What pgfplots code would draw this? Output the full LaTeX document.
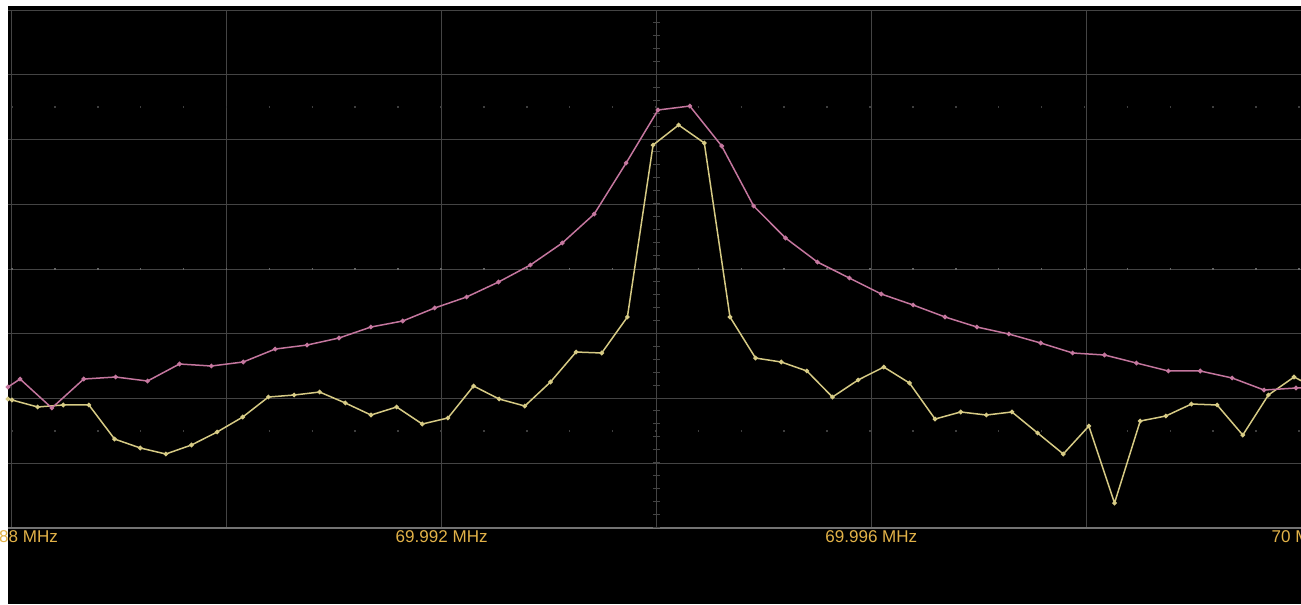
\documentclass[border=0pt]{standalone}
\usepackage{fontspec}
\setmainfont{Liberation Sans}
\usepackage{pgfplots}
\pgfplotsset{compat=1.18}
\definecolor{gridgray}{RGB}{68,68,68}
\definecolor{bottomgray}{RGB}{115,115,115}
\definecolor{dotgray}{RGB}{62,62,62}
\definecolor{labelgold}{RGB}{226,178,72}
\definecolor{pinkline}{RGB}{196,118,158}
\definecolor{pinkmark}{RGB}{236,200,220}
\definecolor{yellowline}{RGB}{214,202,132}
\definecolor{yellowmark}{RGB}{242,238,190}
\begin{document}
\begin{tikzpicture}
\useasboundingbox (0,0) rectangle (260.2mm,120.8mm);
\fill[white] (0,0) rectangle (260.2mm,120.8mm);
\clip (0,0) rectangle (260.2mm,120.8mm);
\fill[black] (1.6mm,0) rectangle (260.2mm,119.6mm);
\begin{axis}[
  at={(1.6mm,15.2mm)}, anchor=south west,
  width=258.6mm, height=103.6mm, scale only axis,
  xmin=-0.0372, xmax=12, ymin=-80, ymax=0,
  axis line style={draw=none},
  xtick={0,2,...,12}, ytick={-80,-70,...,0},
  xticklabels={69.988 MHz,,69.992 MHz,,69.996 MHz,,70 MHz},
  yticklabels={},
  major tick length=0pt,
  grid=major,
  major grid style={gridgray, line width=0.2mm},
  xticklabel style={font=\fontsize{9.7}{11}\selectfont, text=labelgold, anchor=center, yshift=-1.8mm},
  clip=true,
]
% graticule decorations
\draw[bottomgray, line width=0.25mm] (rel axis cs:0,0) -- (rel axis cs:1,0);
\draw[gridgray, line width=1.4mm, dash pattern=on 0.2mm off 2.39mm] (axis cs:6,-80) -- (axis cs:6,0);
\draw[dotgray, line width=0.4mm, dash pattern=on 0.3mm off 8.28mm, dash phase=7.93mm] (axis cs:-0.0372,-15) -- (axis cs:12,-15);
\draw[dotgray!80!white, line width=0.4mm, dash pattern=on 0.3mm off 8.28mm, dash phase=7.93mm] (axis cs:-0.0372,-40) -- (axis cs:12,-40);
\draw[dotgray, line width=0.4mm, dash pattern=on 0.3mm off 8.28mm, dash phase=7.93mm] (axis cs:-0.0372,-65) -- (axis cs:12,-65);

% yellow trace
\addplot[yellowline, line width=0.3mm, mark=*, mark size=0.3mm, mark options={fill=yellowmark, draw=none}] coordinates {
(-0.0372,-60.08)
(0,-60.23) (0.239,-61.31) (0.477,-61.00) (0.716,-61.00) (0.955,-66.26)
(1.194,-67.64) (1.432,-68.57) (1.671,-67.18) (1.910,-65.17) (2.148,-62.86)
(2.387,-59.77) (2.626,-59.46) (2.864,-59.00) (3.103,-60.69) (3.342,-62.55)
(3.581,-61.31) (3.819,-63.94) (4.058,-63.01) (4.297,-58.07) (4.535,-60.08)
(4.774,-61.16) (5.013,-57.45) (5.251,-52.82) (5.490,-52.97) (5.729,-47.41)
(5.968,-20.85) (6.206,-17.76) (6.445,-20.54) (6.684,-47.41) (6.922,-53.75)
(7.161,-54.36) (7.400,-55.75) (7.638,-59.77) (7.877,-57.14) (8.116,-55.14)
(8.355,-57.61) (8.593,-63.17) (8.832,-62.08) (9.071,-62.55) (9.309,-62.08)
(9.548,-65.33) (9.787,-68.57) (10.025,-64.25) (10.264,-76.14) (10.503,-63.48)
(10.742,-62.70) (10.980,-60.85) (11.219,-61.00) (11.458,-65.64) (11.696,-59.46)
(11.935,-56.68) (12.174,-58.70)
};

% pink trace
\addplot[pinkline, line width=0.3mm, mark=*, mark size=0.3mm, mark options={fill=pinkmark, draw=none}] coordinates {
(-0.0372,-58.22)
(0.075,-56.99) (0.371,-61.47) (0.668,-56.99) (0.965,-56.68) (1.262,-57.30)
(1.559,-54.67) (1.856,-54.98) (2.153,-54.36) (2.450,-52.36) (2.747,-51.74)
(3.044,-50.66) (3.341,-48.96) (3.638,-48.03) (3.935,-46.02) (4.232,-44.32)
(4.529,-42.01) (4.826,-39.38) (5.123,-35.98) (5.420,-31.51) (5.717,-23.63)
(6.014,-15.44) (6.310,-14.83) (6.607,-21.00) (6.904,-30.27) (7.201,-35.21)
(7.498,-38.92) (7.795,-41.39) (8.092,-43.86) (8.389,-45.56) (8.686,-47.41)
(8.983,-48.96) (9.280,-50.04) (9.577,-51.43) (9.874,-52.97) (10.171,-53.28)
(10.468,-54.52) (10.765,-55.75) (11.062,-55.75) (11.359,-56.83) (11.656,-58.69)
(11.953,-58.38) (12.250,-58.30)
};
\end{axis}
\end{tikzpicture}
\end{document}
